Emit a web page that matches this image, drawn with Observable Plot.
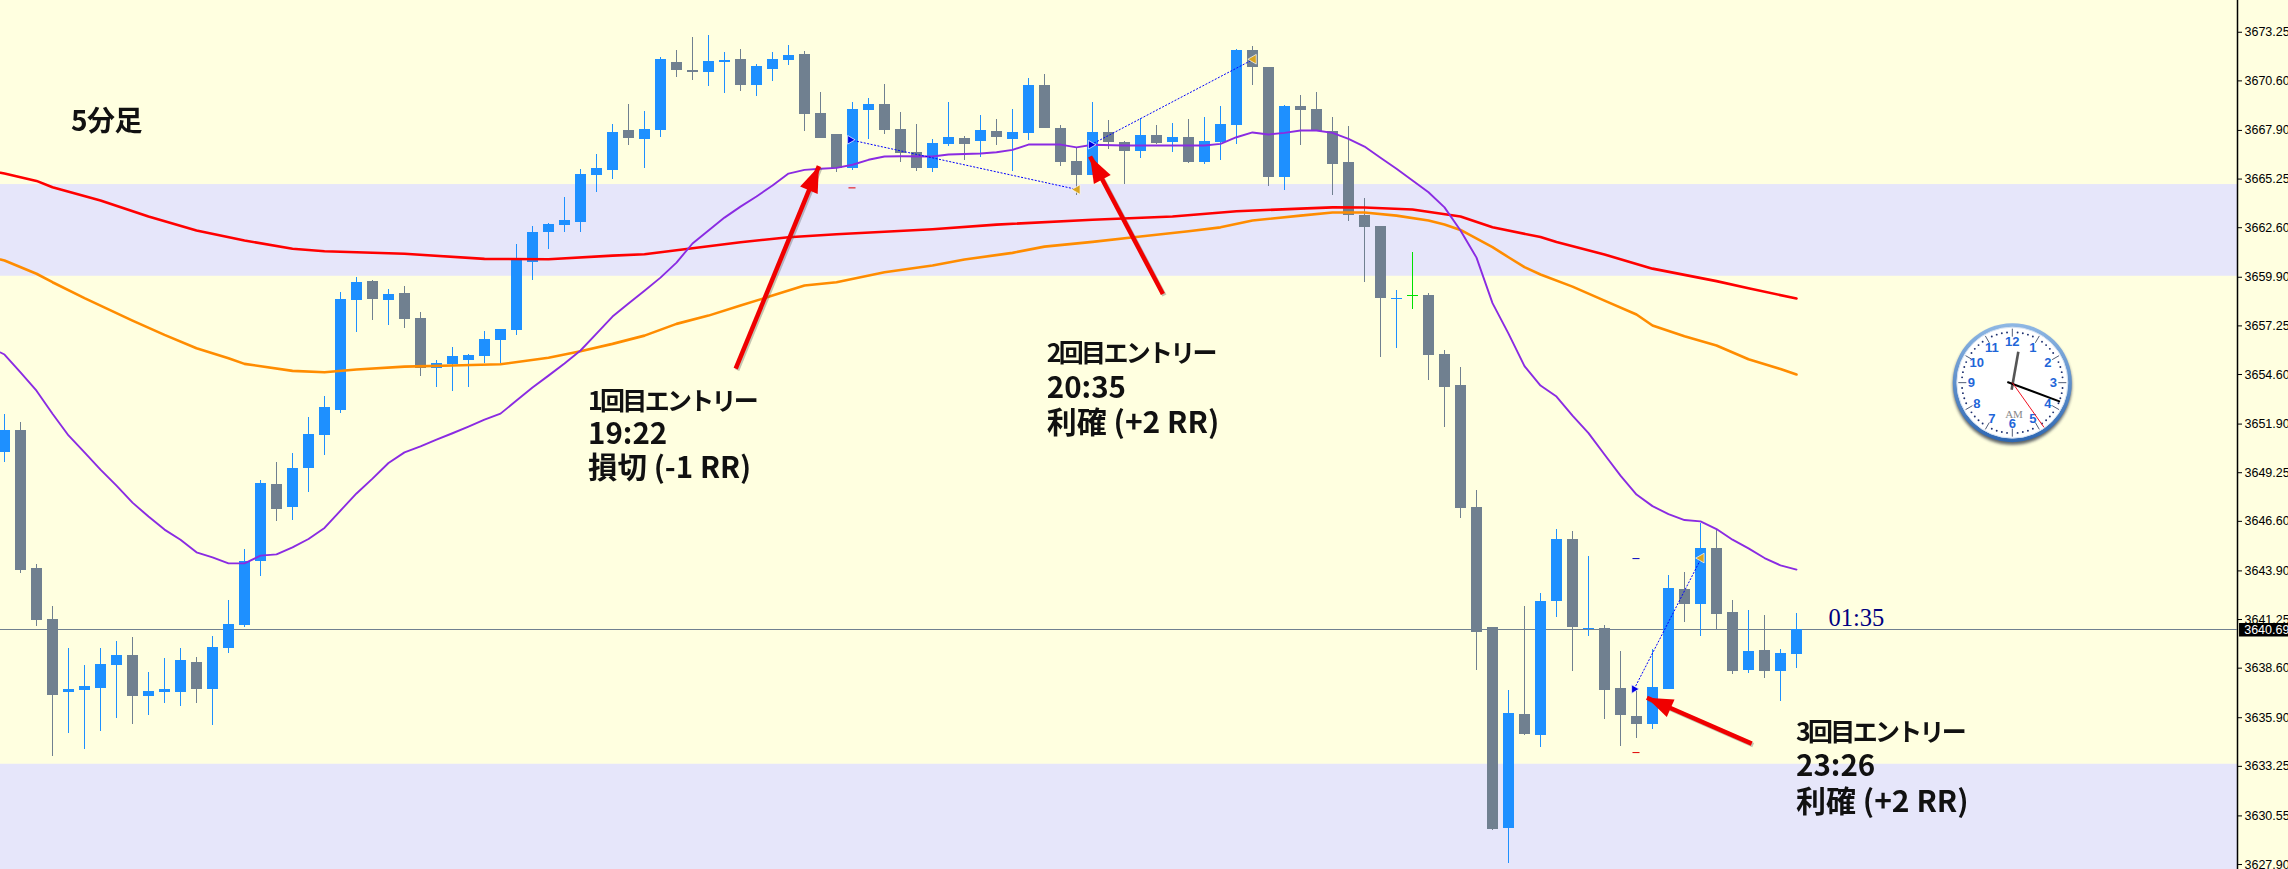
<!DOCTYPE html>
<html lang="ja">
<head>
<meta charset="utf-8">
<title>5分足</title>
<style>
html,body{margin:0;padding:0;background:#FFFFE0;overflow:hidden}
svg{display:block}
</style>
<script src="https://cdn.jsdelivr.net/npm/d3@7"></script>
<script src="https://cdn.jsdelivr.net/npm/@observablehq/plot@0.6"></script>
</head>
<body>
<div id="chart"></div>
<script>
const opens = [3650.35,3651.55,3644.02,3641.24,3637.27,3637.37,3637.48,3638.74,3639.28,3637.05,3637.27,3637.27,3638.90,3637.43,3639.66,3640.92,3644.41,3648.60,3647.35,3649.47,3651.27,3652.64,3658.63,3659.67,3658.63,3659.01,3657.65,3654.92,3655.14,3655.36,3655.58,3656.45,3656.99,3660.70,3662.34,3662.72,3662.88,3665.44,3665.72,3667.90,3667.40,3667.90,3671.60,3671.17,3671.06,3671.60,3671.76,3670.35,3671.22,3671.71,3672.04,3668.82,3667.68,3665.82,3668.99,3669.31,3667.95,3666.70,3665.82,3667.13,3667.46,3667.30,3667.84,3667.40,3667.73,3670.35,3668.00,3666.20,3665.44,3667.79,3667.24,3666.75,3667.62,3667.24,3667.51,3666.15,3667.24,3668.17,3672.26,3671.33,3665.33,3669.20,3669.04,3667.84,3666.15,3663.26,3662.66,3658.68,3658.90,3658.90,3655.69,3654.00,3647.35,3640.81,3629.85,3636.07,3634.95,3642.22,3645.60,3640.70,3640.75,3637.48,3635.96,3635.52,3637.43,3642.88,3642.06,3645.11,3641.63,3638.47,3639.55,3638.41,3639.34];
const closes = [3651.55,3643.92,3641.19,3637.10,3637.43,3637.59,3638.79,3639.28,3637.05,3637.32,3637.43,3639.01,3637.43,3639.72,3640.97,3644.41,3648.66,3647.24,3649.47,3651.33,3652.80,3658.68,3659.61,3658.68,3658.96,3657.59,3654.92,3655.20,3655.58,3655.63,3656.50,3657.05,3660.81,3662.34,3662.77,3662.99,3665.50,3665.82,3667.79,3667.46,3667.95,3671.76,3671.17,3671.06,3671.65,3671.71,3670.35,3671.38,3671.76,3671.98,3668.77,3667.46,3665.82,3669.04,3669.31,3667.90,3666.64,3665.82,3667.19,3667.51,3667.13,3667.90,3667.51,3667.79,3670.35,3668.00,3666.15,3665.44,3667.79,3667.24,3666.75,3667.62,3667.19,3667.51,3666.15,3667.30,3668.22,3672.26,3671.33,3665.33,3669.20,3668.99,3667.84,3666.04,3663.26,3662.61,3658.74,3658.74,3658.85,3655.63,3653.89,3647.29,3640.54,3629.80,3636.12,3634.98,3642.22,3645.60,3640.81,3640.75,3637.37,3636.01,3635.52,3637.54,3642.93,3642.06,3645.11,3641.52,3638.41,3639.50,3638.41,3639.39,3640.69];
const highs = [3652.42,3651.98,3644.24,3641.95,3639.66,3638.74,3639.66,3640.05,3640.26,3638.36,3639.12,3639.66,3639.17,3640.32,3642.28,3645.06,3648.82,3649.80,3650.29,3652.25,3653.40,3659.07,3659.88,3659.72,3659.23,3659.39,3657.98,3655.36,3656.07,3655.69,3656.94,3657.05,3661.68,3662.66,3662.83,3664.24,3665.77,3666.59,3668.22,3669.31,3668.93,3671.87,3672.26,3672.96,3673.07,3672.15,3672.31,3671.49,3672.15,3672.53,3672.20,3669.97,3667.68,3669.42,3669.64,3670.40,3668.88,3668.22,3667.40,3669.42,3667.57,3668.71,3668.49,3669.04,3670.73,3670.95,3668.17,3666.97,3669.42,3668.44,3667.30,3668.55,3668.17,3668.28,3668.49,3668.60,3669.20,3672.31,3672.47,3671.33,3669.26,3669.80,3669.97,3668.60,3668.11,3664.19,3662.66,3659.17,3661.25,3659.01,3655.91,3654.98,3648.28,3640.81,3637.37,3641.95,3642.69,3646.15,3646.04,3644.68,3640.92,3639.50,3637.48,3639.61,3643.64,3643.81,3646.48,3646.15,3642.28,3641.74,3641.46,3639.61,3641.57];
const lows = [3649.80,3643.75,3640.86,3633.78,3635.03,3634.16,3635.14,3635.85,3635.52,3636.01,3636.67,3636.50,3636.67,3635.47,3639.39,3640.81,3643.59,3646.59,3646.64,3648.17,3650.18,3652.47,3656.89,3657.54,3657.27,3657.10,3654.49,3653.89,3653.67,3653.89,3655.20,3655.20,3656.72,3659.72,3661.41,3662.34,3662.34,3664.52,3665.22,3667.08,3665.82,3667.51,3670.78,3670.62,3670.29,3669.91,3670.02,3669.75,3670.57,3671.44,3667.84,3667.46,3665.61,3665.72,3667.40,3667.68,3666.15,3665.66,3665.61,3667.02,3666.26,3666.42,3667.08,3665.66,3667.35,3668.00,3665.93,3664.35,3665.44,3666.86,3664.95,3666.37,3667.13,3666.70,3666.10,3666.04,3666.26,3667.13,3670.35,3664.84,3664.62,3667.08,3667.84,3664.35,3662.94,3659.61,3655.52,3656.01,3658.14,3654.27,3651.71,3646.75,3638.47,3629.74,3627.97,3634.92,3634.30,3641.35,3638.41,3640.32,3635.80,3634.32,3634.79,3635.25,3637.43,3641.08,3640.32,3640.70,3638.25,3638.30,3638.03,3636.78,3638.57];
const greenBars = [88];

const redX = [-0.25,0,2,3,6,9,12,15,18,20,25,30,34,38,40,43,46,49,52,58,62,68,73,77,81,83,85,88,91,93,96,97,100,103,107,109,112];
const redY = [3665.59,3665.55,3665.15,3664.80,3664.08,3663.21,3662.45,3661.90,3661.45,3661.32,3661.18,3660.90,3660.88,3661.08,3661.15,3661.48,3661.81,3662.08,3662.24,3662.52,3662.77,3663.03,3663.21,3663.50,3663.64,3663.71,3663.70,3663.59,3663.21,3662.62,3662.09,3661.82,3661.14,3660.37,3659.69,3659.30,3658.74];
const orangeX = [-0.25,0,2,3,5,8,10,12,14,15,18,20,22,25,28,31,34,36,38,40,42,44,46,48,50,52,55,58,60,63,65,68,71,74,76,78,81,83,85,87,89,90,91,93,94,95,96,98,100,102,103,105,107,109,111,112];
const orangeY = [3660.87,3660.81,3660.09,3659.63,3658.76,3657.54,3656.76,3656.03,3655.49,3655.18,3654.80,3654.72,3654.87,3655.03,3655.09,3655.16,3655.51,3655.87,3656.27,3656.72,3657.36,3657.81,3658.36,3658.90,3659.45,3659.63,3660.17,3660.54,3660.87,3661.23,3661.57,3661.83,3662.12,3662.41,3662.62,3662.99,3663.26,3663.43,3663.43,3663.26,3662.99,3662.77,3662.48,3661.54,3660.99,3660.45,3660.05,3659.39,3658.63,3657.87,3657.27,3656.68,3656.18,3655.43,3654.90,3654.60];
const purpleX = [-0.25,0,1,2,3,4,5,6,7,8,9,10,11,12,13,14,15,16,17,18,19,20,21,22,23,24,25,26,27,28,29,30,31,32,33,34,35,36,37,38,39,40,41,42,43,44,45,46,47,48,49,50,51,52,53,54,55,56,58,59,61,62,63,64,66,67,68,70,72,75,76,77,78,79,80,81,82,83,84,85,86,87,88,89,90,91,92,93,94,95,96,97,98,99,100,101,102,103,104,105,106,107,108,109,110,111,112];
const purpleY = [3655.80,3655.69,3654.72,3653.72,3652.46,3651.28,3650.36,3649.42,3648.55,3647.62,3646.86,3646.15,3645.60,3644.91,3644.64,3644.31,3644.31,3644.73,3644.80,3645.18,3645.64,3646.24,3647.19,3648.12,3648.93,3649.78,3650.36,3650.69,3651.05,3651.40,3651.76,3652.14,3652.47,3653.18,3653.89,3654.54,3655.20,3655.91,3656.83,3657.76,3658.47,3659.17,3659.88,3660.70,3661.74,3662.45,3663.15,3663.75,3664.30,3664.90,3665.55,3665.75,3665.81,3665.86,3666.03,3666.30,3666.48,3666.49,3666.48,3666.59,3666.64,3666.71,3666.84,3667.13,3667.13,3666.98,3667.12,3667.08,3667.08,3667.08,3667.17,3667.53,3667.79,3667.68,3667.77,3667.90,3667.90,3667.77,3667.44,3667.02,3666.41,3665.81,3665.17,3664.53,3663.71,3662.45,3660.97,3658.49,3656.83,3655.06,3654.00,3653.40,3652.36,3651.41,3650.24,3649.09,3648.06,3647.43,3646.99,3646.67,3646.60,3646.18,3645.60,3645.13,3644.60,3644.20,3643.97];

const bandLow = [3664.95, 3627.63];
const bandHigh = [3659.955, 3633.365];

const priceTicks = [3673.25,3670.60,3667.90,3665.25,3662.60,3659.90,3657.25,3654.60,3651.90,3649.25,3646.60,3643.90,3641.25,3638.60,3635.90,3633.25,3630.55,3627.90];
const lastPrice = 3640.69;
const countdown = "01:35";

const entryX = [52.85, 67.9, 101.85];
const entryY = [3667.39, 3667.12, 3637.46];
const exitX = [67.05, 78.06, 106.05];
const exitY = [3664.68, 3671.78, 3644.60];
const stopX = [53, 102];
const stopY = [3664.77, 3634.00];
const targetX = [102];
const targetY = [3644.57];

const arrowTailX = [45.7, 72.4, 109.2];
const arrowTailY = [3654.92, 3658.99, 3634.49];
const arrowTipX = [50.9, 67.85, 102.65];
const arrowTipY = [3665.95, 3666.48, 3636.99];
const arrowAngle = [22.6, -27.9, -66];

const notes = [
  {t:"5分足", x:4.15, y:3668.35, s:28, k:-0.4},
  {t:"1回目エントリー", x:36.47, y:3653.13, s:25, k:-2.7},
  {t:"19:22", x:36.47, y:3651.33, s:29.5, k:0},
  {t:"損切 (-1 RR)", x:36.47, y:3649.47, s:29.5, k:0},
  {t:"2回目エントリー", x:65.14, y:3655.74, s:25, k:-2.7},
  {t:"20:35", x:65.14, y:3653.86, s:29.5, k:0},
  {t:"利確 (+2 RR)", x:65.14, y:3651.95, s:30, k:0},
  {t:"3回目エントリー", x:111.97, y:3635.06, s:25, k:-2.7},
  {t:"23:26", x:111.97, y:3633.23, s:29.5, k:0},
  {t:"利確 (+2 RR)", x:111.97, y:3631.29, s:30, k:0}
];

const clockX = 125.52, clockY = 3654.13;
const clockNums = ["12","1","2","3","4","5","6","7","8","9","10","11"];

const candles = opens.map((o,i)=>({i,o,c:closes[i],h:highs[i],l:lows[i],
  col: greenBars.includes(i) ? "#00E000" : (closes[i] > opens[i] ? "#1E90FF" : "#708090")}));
const toPts = (xs,ys)=>xs.map((x,i)=>({x,y:ys[i]}));
const bands = bandLow.map((a,i)=>({a,b:bandHigh[i]}));
const trades = entryX.map((x,i)=>({x1:x,y1:entryY[i],x2:exitX[i],y2:exitY[i]}));
const arrows = arrowTailX.map((x,i)=>({x1:x,y1:arrowTailY[i],x2:arrowTipX[i],y2:arrowTipY[i],a:arrowAngle[i]}));
const head = {draw(ctx,l){ctx.moveTo(0,-l);ctx.lineTo(9.5,0);ctx.lineTo(-9.5,0);ctx.closePath();}};

function clockMark(index, scales){
  const g = d3.create("svg:g").attr("transform",`translate(${scales.x(clockX)},${scales.y(clockY)})`);
  const defs = g.append("defs");
  const rim = defs.append("linearGradient").attr("id","rimG").attr("x1",0).attr("y1",0).attr("x2",0).attr("y2",1);
  rim.append("stop").attr("offset","0").attr("stop-color","#8fb8e4");
  rim.append("stop").attr("offset","1").attr("stop-color","#2e67b2");
  const f = defs.append("filter").attr("id","clkBlur").attr("x","-20%").attr("y","-20%").attr("width","140%").attr("height","140%");
  f.append("feGaussianBlur").attr("stdDeviation",1.6);
  g.append("circle").attr("cy",2.6).attr("r",59.5).attr("fill","#2a3040").attr("opacity",.75).attr("filter","url(#clkBlur)");
  g.append("circle").attr("r",59.5).attr("fill","url(#rimG)");
  g.append("circle").attr("r",55.5).attr("fill","#fff").attr("stroke","#d5e2f2").attr("stroke-width",1);
  for(let m=0;m<60;m++){
    const a=m*Math.PI/30, s=Math.sin(a), c=-Math.cos(a);
    if(m%5===0){
      g.append("line").attr("x1",46*s).attr("y1",46*c).attr("x2",54*s).attr("y2",54*c).attr("stroke","#3c4a66").attr("stroke-width",.9);
    } else {
      g.append("circle").attr("cx",50.5*s).attr("cy",50.5*c).attr("r",.95).attr("fill","#1c2f6e");
    }
  }
  clockNums.forEach((n,k)=>{
    const a=k*Math.PI/6;
    g.append("text").attr("x",41*Math.sin(a)).attr("y",-41*Math.cos(a)).attr("dy","0.36em")
      .attr("text-anchor","middle").attr("font-family","Liberation Sans").attr("font-weight","bold")
      .attr("font-size",13).attr("fill","#1f66d8").text(n);
  });
  g.append("text").attr("x",1.7).attr("y",35).attr("text-anchor","middle").attr("font-family","Liberation Serif")
    .attr("font-size",11).attr("fill","#888").text("AM");
  g.append("line").attr("x1",-0.7).attr("y1",7).attr("x2",6).attr("y2",-31).attr("stroke","#555").attr("stroke-width",2.6);
  g.append("line").attr("x1",-5).attr("y1",-0.7).attr("x2",47.7).attr("y2",19).attr("stroke","#000").attr("stroke-width",2);
  g.append("line").attr("x1",0).attr("y1",0).attr("x2",31.7).attr("y2",44.7).attr("stroke","#f01020").attr("stroke-width",1);
  return g.node();
}

const axisFont = "Liberation Sans";
const plot = Plot.plot({
  width:2288, height:869,
  marginLeft:0, marginRight:51, marginTop:0, marginBottom:0,
  style:{background:"#FFFFE0", overflow:"hidden"},
  x:{domain:[-0.25,139.5625], range:[0,2237], axis:null},
  y:{domain:[3627.63,3674.98], range:[869,0]},
  marks:[
    Plot.rect(bands,{y1:"a",y2:"b",fill:"#E6E6FA"}),
    Plot.axisY(priceTicks,{anchor:"right",tickSize:4,tickPadding:3,tickFormat:d=>d.toFixed(2),label:null,fontSize:12.5,fontFamily:axisFont,fill:"#000",stroke:"#000",strokeOpacity:1}),
    Plot.ruleX([139.5625],{stroke:"#000",strokeWidth:1.5}),
    Plot.ruleY([lastPrice],{stroke:"#708090",strokeWidth:1,shapeRendering:"crispEdges"}),
    Plot.ruleX(candles,{x:"i",y1:"l",y2:"h",stroke:"col",strokeWidth:1,shapeRendering:"crispEdges"}),
    Plot.ruleX(candles,{x:"i",y1:d=>Math.min(d.o,d.c),y2:d=>Math.max(d.o,d.c),stroke:"col",strokeWidth:11,shapeRendering:"crispEdges"}),
    Plot.line(toPts(redX,redY),{x:"x",y:"y",stroke:"#FF0000",strokeWidth:2.6,curve:"linear"}),
    Plot.line(toPts(orangeX,orangeY),{x:"x",y:"y",stroke:"#FF8C00",strokeWidth:2.6,curve:"linear"}),
    Plot.line(toPts(purpleX,purpleY),{x:"x",y:"y",stroke:"#8A2BE2",strokeWidth:1.9,curve:"linear"}),
    Plot.link(trades,{x1:"x1",y1:"y1",x2:"x2",y2:"y2",stroke:"#0000FF",strokeWidth:1,strokeDasharray:"2 1.5"}),
    Plot.ruleY(toPts(stopX,stopY),{y:"y",x1:d=>d.x-0.22,x2:d=>d.x+0.22,stroke:"#E00000",strokeWidth:1}),
    Plot.ruleY(toPts(targetX,targetY),{y:"y",x1:d=>d.x-0.22,x2:d=>d.x+0.22,stroke:"#0000C0",strokeWidth:1}),
    Plot.dot(trades,{x:"x1",y:"y1",symbol:"triangle",r:3.2,rotate:90,fill:"#0000E0",stroke:"#fff",strokeWidth:.7}),
    Plot.dot(trades,{x:"x2",y:"y2",symbol:"triangle",r:3.6,rotate:-90,fill:"#DAA520",stroke:"#fff",strokeWidth:.7}),
    Plot.link(arrows,{x1:"x1",y1:"y1",x2:"x2",y2:"y2",stroke:"#555",strokeOpacity:.35,strokeWidth:4.5,dx:1.5,dy:1.5}),
    Plot.link(arrows,{x1:"x1",y1:"y1",x2:"x2",y2:"y2",stroke:"#F00000",strokeWidth:4.5}),
    Plot.vector(arrows,{x:"x2",y:"y2",length:26,rotate:"a",anchor:"end",shape:head,fill:"#F00000",stroke:"none"}),
    Plot.text(notes,{x:"x",y:"y",text:"t",fontSize:"s",textAnchor:"start",lineAnchor:"middle",fontFamily:"Noto Sans CJK JP",fontWeight:"bold",fill:"#111",imageFilter:"blur(0.35px)"}),
    Plot.text([countdown],{x:114,y:3641.33,text:d=>d,textAnchor:"start",fontSize:24.5,fontFamily:"Liberation Serif",fill:"#000080"}),
    Plot.ruleY([lastPrice],{x1:139.69,x2:143,stroke:"#000",strokeWidth:13.4}),
    Plot.text([lastPrice],{x:139.98,y:lastPrice,text:d=>d.toFixed(2),textAnchor:"start",fontSize:12.5,fontFamily:axisFont,fill:"#fff"}),
    clockMark
  ]
});
d3.select(plot).selectAll("text").each(function(){
  const n = notes.find(d=>d.t===this.textContent);
  if(n) this.style.letterSpacing = n.k+"px";
});
document.getElementById("chart").appendChild(plot);
</script>
</body>
</html>
